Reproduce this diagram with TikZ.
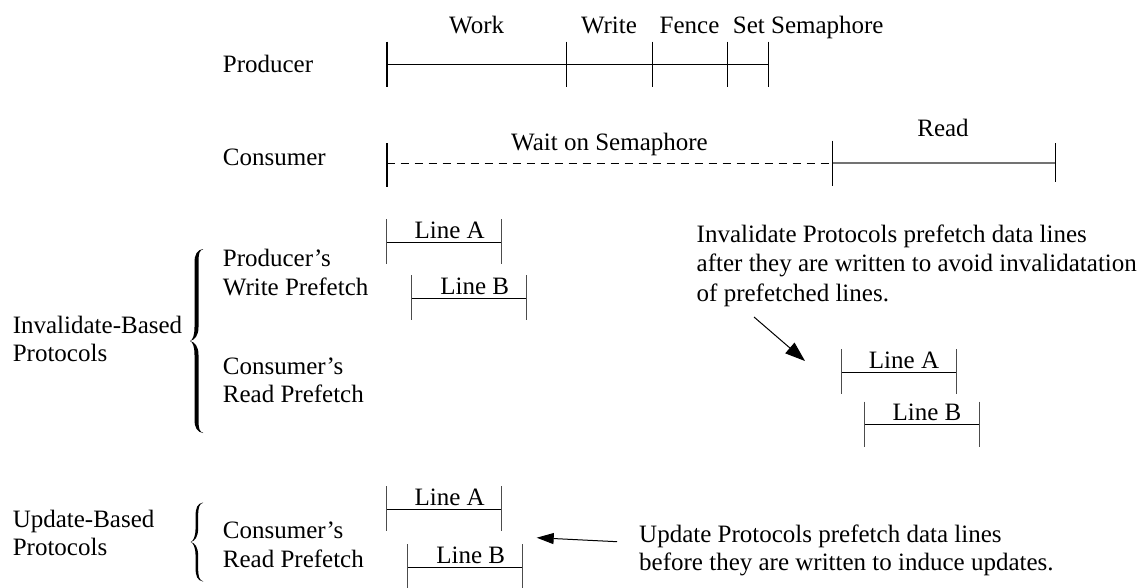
\documentclass[tikz,border=0pt]{standalone}
\usepackage{fontspec}
\setmainfont{Liberation Serif}
\usetikzlibrary{arrows.meta}

% one prefetched cache line: a bar with end ticks and its label
% #1 name, #2 left x, #3 bar y, #4 label
\newcommand\cacheline[4]{%
  \coordinate (#1l) at (#2,#3);
  \coordinate (#1r) at (#2+115,#3);
  \draw[spanbar] (#1l) -- (#1r);
  \draw[spantick] (#1l) ++(0,-23) -- ++(0,45);
  \draw[spantick] (#1r) ++(0,-23) -- ++(0,45);
  \node[tag] (#1t) at (#2+63,#3-4) {#4};
}

% a filled left curly brace
% #1 cusp x, #2 middle y, #3 half height, #4 reach of the tips, #5 stroke width
\newcommand\curlybrace[5]{%
  \foreach \s in {1,-1}{
    \begin{scope}[shift={(#1,#2)}, yscale=\s]
      \fill (#4,-#3)
        .. controls (#4*0.55,-#3+1) and (#4*0.5-#5/2,-#3+5) .. (#4*0.5-#5/2,-#3+14)
        -- (#4*0.5-#5/2,-14)
        .. controls (#4*0.5-#5/2,-5) and (#4*0.2,-1) .. (0,0)
        .. controls (#4*0.35,-1) and (#4*0.5+#5/2,-5) .. (#4*0.5+#5/2,-14)
        -- (#4*0.5+#5/2,-#3+14)
        .. controls (#4*0.5+#5/2,-#3+4) and (#4*0.75,-#3+0.8) .. (#4,-#3+0.4)
        -- cycle;
    \end{scope}}%
}

\begin{document}
\begin{tikzpicture}[x=1pt,y=-1pt,
  every node/.style={font=\fontsize{25}{29}\selectfont, inner sep=0pt},
  lbl/.style={anchor=base west},
  tag/.style={anchor=base},
  axis/.style={line width=1pt},
  starttick/.style={line width=2.2pt},
  thintick/.style={line width=1pt},
  waitline/.style={line width=1pt, dash pattern=on 8pt off 6pt},
  readline/.style={line width=2pt, black!55},
  spanbar/.style={line width=1pt},
  spantick/.style={line width=1pt, black!70},
  pointer/.style={line width=1pt, -{Triangle[length=20pt,width=14pt]}},
  pointersm/.style={line width=1pt, -{Triangle[length=17pt,width=11pt]}},
]
\useasboundingbox (0,0) rectangle (1148,587);

% ---------- producer timeline ----------
\node[lbl] (prod) at (222.7,72.7) {Producer};
\coordinate (p0) at (386.7,64.3);
\coordinate (p1) at (566.7,64.3);
\coordinate (p2) at (652,64.3);
\coordinate (p3) at (727.3,64.3);
\coordinate (p4) at (768.7,64.3);
\draw[axis] (p0) -- (p4);
\draw[starttick] (p0) ++(0,-22.6) -- ++(0,45.6);
\foreach \t in {p1,p2,p3,p4}
  \draw[thintick] (\t) ++(0,-22.6) -- ++(0,45.6);
\node[tag] (work) at (476.7,33) {Work};
\node[tag] (write) at (609,33) {Write};
\node[tag] (fence) at (689.5,33) {Fence};
\node[lbl] (setsem) at (732.7,33) {Set Semaphore};

% ---------- consumer timeline ----------
\node[lbl] (cons) at (222.7,165) {Consumer};
\coordinate (c0) at (386.7,163);
\coordinate (c1) at (832.3,163);
\coordinate (c2) at (1055.3,163);
\draw[waitline] (c0) -- (c1);
\draw[readline] (c1) -- (c2);
\draw[starttick] (c0) ++(0,-20) -- ++(0,44);
\draw[thintick] (c1) ++(0,-22.3) -- ++(0,45);
\draw[thintick] (c2) ++(0,-20) -- ++(0,39);
\node[tag] (wait) at (609.5,150) {Wait on Semaphore};
\node[tag] (read) at (943,136) {Read};

% ---------- invalidate-based protocols ----------
\node[lbl] (inv1) at (12.6,333) {Invalidate-Based};
\node[lbl] (inv2) at (12.6,361) {Protocols};
\curlybrace{190}{341}{92}{13}{4}
\node[lbl] (pw1) at (222.7,266) {Producer’s};
\node[lbl] (pw2) at (222.7,295) {Write Prefetch};
\node[lbl] (cr1) at (222.7,374) {Consumer’s};
\node[lbl] (cr2) at (222.7,402) {Read Prefetch};
\cacheline{ia}{386.7}{242}{Line A}
\cacheline{ib}{411.7}{298.3}{Line B}

\node[lbl] (note1a) at (696.5,242) {Invalidate Protocols prefetch data lines};
\node[lbl] (note1b) at (696.5,271) {after they are written to avoid invalidatation};
\node[lbl] (note1c) at (696.5,301) {of prefetched lines.};
\cacheline{ra}{841}{372}{Line A}
\cacheline{rb}{864}{424.7}{Line B}
\coordinate (arr1s) at (754,317);
\coordinate (arr1e) at (805,361);
\draw[pointer] (arr1s) -- (arr1e);

% ---------- update-based protocols ----------
\node[lbl] (upd1) at (12.6,527) {Update-Based};
\node[lbl] (upd2) at (12.6,555) {Protocols};
\curlybrace{190.7}{542}{39.5}{12.3}{2.6}
\node[lbl] (ur1) at (222.7,538) {Consumer’s};
\node[lbl] (ur2) at (222.7,567) {Read Prefetch};
\cacheline{ua}{386.7}{509.3}{Line A}
\cacheline{ub}{407.7}{567.3}{Line B}

\node[lbl] (note2a) at (639,542) {Update Protocols prefetch data lines};
\node[lbl] (note2b) at (639,570) {before they are written to induce updates.};
\coordinate (arr2e) at (536.7,537.7);
\draw[pointersm] (note2a.base west) ++(-22,-0.3) -- (arr2e);
\end{tikzpicture}
\end{document}
